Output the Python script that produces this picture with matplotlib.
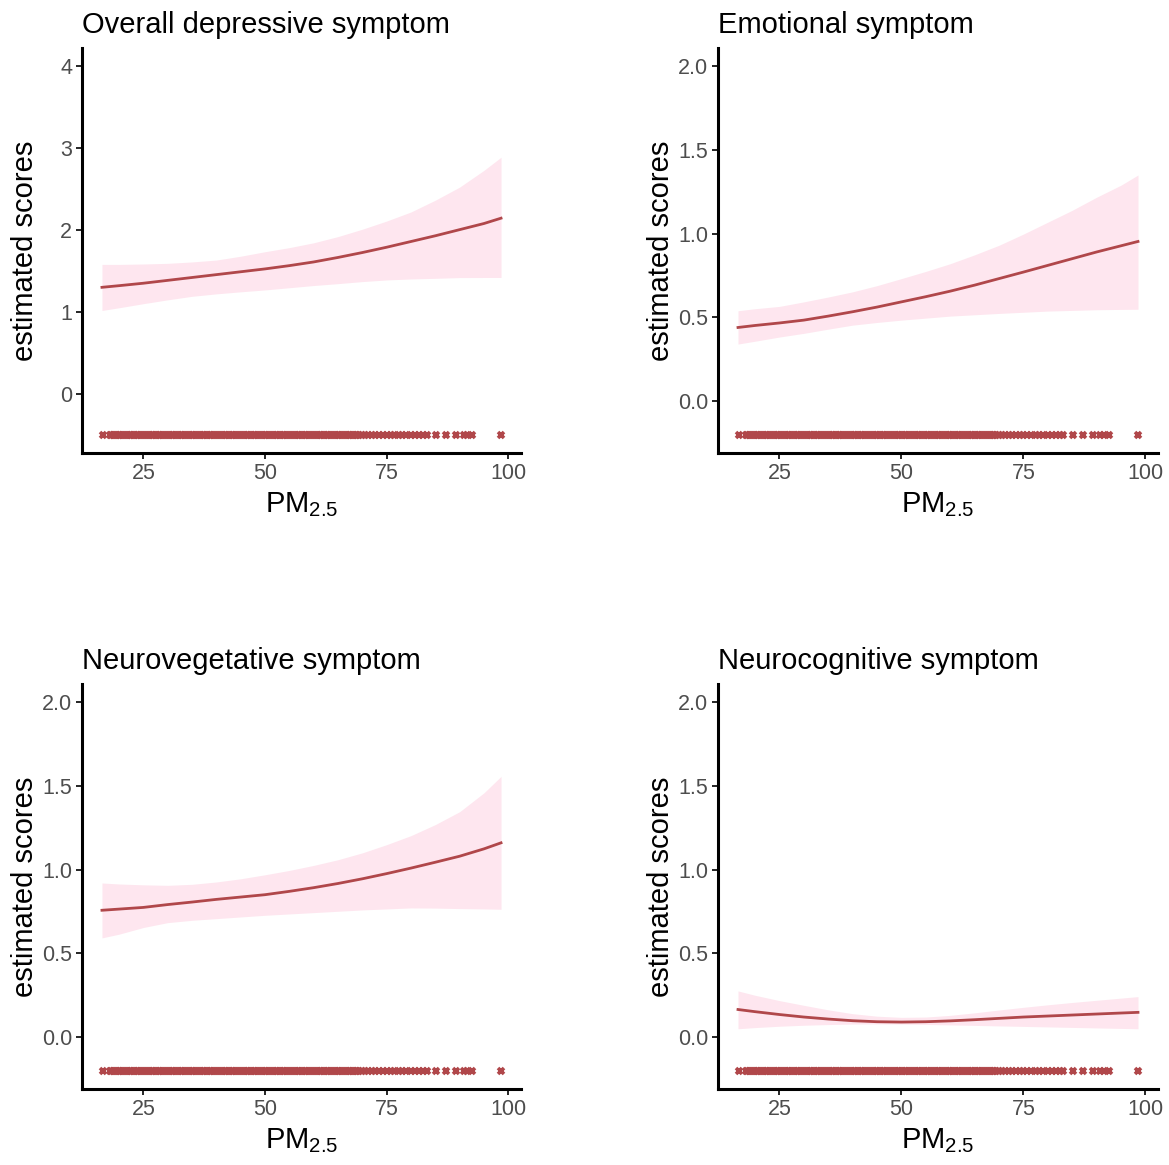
import matplotlib
matplotlib.use("Agg")
import matplotlib.pyplot as plt

FONT = "Liberation Sans"
LINE_C = "#B0474A"; BAND_C = "#FEE6EF"; TICK_C = "#4D4D4D"

plt.rcParams.update({
    "font.family": FONT, "mathtext.fontset": "custom",
    "mathtext.rm": FONT, "mathtext.it": FONT + ":italic",
})

# fitted curves (x grid shared by all panels)
pm_grid = [16.5, 20, 25, 30, 35, 40, 45, 50, 55, 60, 65, 70, 75, 80, 85, 90, 95, 98.5]

overall_fit = [1.30, 1.32, 1.35, 1.385, 1.42, 1.455, 1.49, 1.525, 1.565, 1.61, 1.665,
               1.725, 1.79, 1.86, 1.93, 2.005, 2.08, 2.145]
overall_hi = [1.58, 1.58, 1.585, 1.593, 1.61, 1.633, 1.68, 1.735, 1.785, 1.844, 1.92,
              2.01, 2.11, 2.221, 2.365, 2.525, 2.73, 2.89]
overall_lo = [1.017, 1.05, 1.10, 1.147, 1.19, 1.22, 1.245, 1.268, 1.295, 1.322, 1.345,
              1.37, 1.39, 1.402, 1.41, 1.419, 1.42, 1.42]

emo_fit = [0.44, 0.452, 0.467, 0.484, 0.508, 0.534, 0.562, 0.593, 0.624, 0.657, 0.693,
           0.732, 0.771, 0.811, 0.851, 0.891, 0.928, 0.954]
emo_hi = [0.54, 0.552, 0.566, 0.593, 0.622, 0.653, 0.69, 0.732, 0.775, 0.821, 0.874,
          0.931, 0.998, 1.069, 1.14, 1.218, 1.29, 1.351]
emo_lo = [0.341, 0.358, 0.383, 0.405, 0.43, 0.454, 0.47, 0.484, 0.496, 0.508, 0.516,
          0.524, 0.531, 0.538, 0.542, 0.546, 0.548, 0.549]

veg_fit = [0.758, 0.765, 0.775, 0.792, 0.807, 0.823, 0.837, 0.851, 0.871, 0.893, 0.918,
           0.946, 0.977, 1.010, 1.045, 1.081, 1.125, 1.161]
veg_hi = [0.921, 0.915, 0.91, 0.907, 0.913, 0.927, 0.946, 0.970, 0.996, 1.026, 1.06,
          1.101, 1.15, 1.204, 1.27, 1.347, 1.46, 1.558]
veg_lo = [0.593, 0.615, 0.655, 0.684, 0.698, 0.708, 0.718, 0.728, 0.736, 0.744, 0.752,
          0.760, 0.766, 0.772, 0.771, 0.768, 0.766, 0.764]

cog_fit = [0.165, 0.152, 0.135, 0.12, 0.108, 0.098, 0.092, 0.09, 0.092, 0.097, 0.104,
           0.112, 0.12, 0.126, 0.132, 0.138, 0.144, 0.148]
cog_hi = [0.276, 0.25, 0.218, 0.19, 0.163, 0.14, 0.125, 0.118, 0.12, 0.13, 0.145,
          0.162, 0.178, 0.193, 0.207, 0.22, 0.233, 0.242]
cog_lo = [0.05, 0.057, 0.065, 0.071, 0.075, 0.078, 0.079, 0.078, 0.076, 0.073, 0.07,
          0.067, 0.064, 0.061, 0.058, 0.055, 0.052, 0.05]

# observed PM2.5 values (rug)
pm_obs = [
    16.7, 18.1, 18.4, 18.8, 19.2, 19.5, 19.9, 20.3, 20.7, 21.0, 21.4, 21.8, 22.2, 22.5,
    22.9, 23.3, 23.7, 24.0, 24.4, 24.8, 25.2, 25.5, 25.9, 26.3, 26.7, 27.0, 27.4, 27.8,
    28.2, 28.5, 28.9, 29.3, 29.7, 30.0, 30.4, 30.8, 31.2, 31.5, 31.9, 32.3, 32.7, 33.0,
    33.4, 33.8, 34.2, 34.5, 34.9, 35.3, 35.7, 36.0, 36.4, 36.8, 37.2, 37.5, 37.9, 38.3,
    38.7, 39.0, 39.4, 39.8, 40.2, 40.5, 40.9, 41.3, 41.7, 42.0, 42.4, 42.8, 43.2, 43.5,
    43.9, 44.3, 44.7, 45.0, 45.4, 45.8, 46.2, 46.5, 46.9, 47.3, 47.7, 48.0, 48.4, 48.8,
    49.2, 49.5, 49.9, 50.3, 50.7, 51.0, 51.4, 51.8, 52.2, 52.5, 52.9, 53.3, 53.7, 54.0,
    54.4, 54.8, 55.2, 55.5, 55.9, 56.3, 56.7, 57.0, 57.4, 57.8, 58.2, 58.5, 58.9, 59.3,
    59.7, 60.0, 60.4, 60.8, 61.2, 61.5, 61.9, 62.3, 62.7, 63.0, 63.4, 63.8, 64.2, 64.5,
    64.9, 65.3, 65.7, 66.0, 66.4, 66.8, 67.2, 67.5, 67.9, 68.3, 68.7, 69.0, 69.4,
    70.0, 70.6, 71.2, 72.0, 72.6, 73.5, 74.3, 75.0, 75.8, 76.5, 77.5, 78.2, 79.0, 80.0,
    80.8, 81.6, 82.5, 83.2, 85.2, 87.2, 89.3, 90.8, 91.6, 92.5, 98.5,
]

titles = ["Overall depressive symptom", "Emotional symptom",
          "Neurovegetative symptom", "Neurocognitive symptom"]
fits = [overall_fit, emo_fit, veg_fit, cog_fit]
his = [overall_hi, emo_hi, veg_hi, cog_hi]
los = [overall_lo, emo_lo, veg_lo, cog_lo]
rug_y = [-0.5, -0.2, -0.2, -0.2]
ylims = [(-0.725, 4.225), (-0.31, 2.11), (-0.31, 2.11), (-0.31, 2.11)]
yticks = [[0, 1, 2, 3, 4], [0, 0.5, 1, 1.5, 2], [0, 0.5, 1, 1.5, 2], [0, 0.5, 1, 1.5, 2]]
ytick_fmt = ["{:.0f}", "{:.1f}", "{:.1f}", "{:.1f}"]

W, H = 1169, 1165
fig = plt.figure(figsize=(W / 100, H / 100), dpi=100)
# panel boxes in pixels: left, right, top, bottom
boxes = [(82, 521, 48, 453), (718, 1158, 48, 453),
         (82, 521, 684, 1089), (718, 1158, 684, 1089)]

for i in range(4):
    l, r, t, b = boxes[i]
    ax = fig.add_axes([l / W, 1 - b / H, (r - l) / W, (b - t) / H])
    ax.fill_between(pm_grid, los[i], his[i], color=BAND_C, lw=0)
    ax.plot(pm_grid, fits[i], color=LINE_C, lw=2.0)
    ax.plot(pm_obs, [rug_y[i]] * len(pm_obs), ls="none", marker="x",
            ms=5.0, mew=2.6, color=LINE_C)
    ax.set_xlim(12.4, 102.6)
    ax.set_ylim(*ylims[i])
    ax.set_xticks([25, 50, 75, 100])
    ax.set_yticks(yticks[i])
    ax.set_yticklabels([ytick_fmt[i].format(v) for v in yticks[i]])
    ax.tick_params(labelsize=15.5, labelcolor=TICK_C, color="black",
                   length=4, width=1.2, pad=3)
    for s in ("top", "right"):
        ax.spines[s].set_visible(False)
    for s in ("left", "bottom"):
        ax.spines[s].set_linewidth(2.2)
    ax.set_title(titles[i], loc="left", fontsize=21, pad=11, x=0.0)
    ax.set_xlabel(r"PM$_{2.5}$", fontsize=21, labelpad=5)
    ax.set_ylabel("estimated scores", fontsize=21, va="center")
    ax.yaxis.set_label_coords((l - 57) / (r - l) - l / (r - l), 0.5)

fig.savefig("out.png", dpi=100, facecolor="white")
